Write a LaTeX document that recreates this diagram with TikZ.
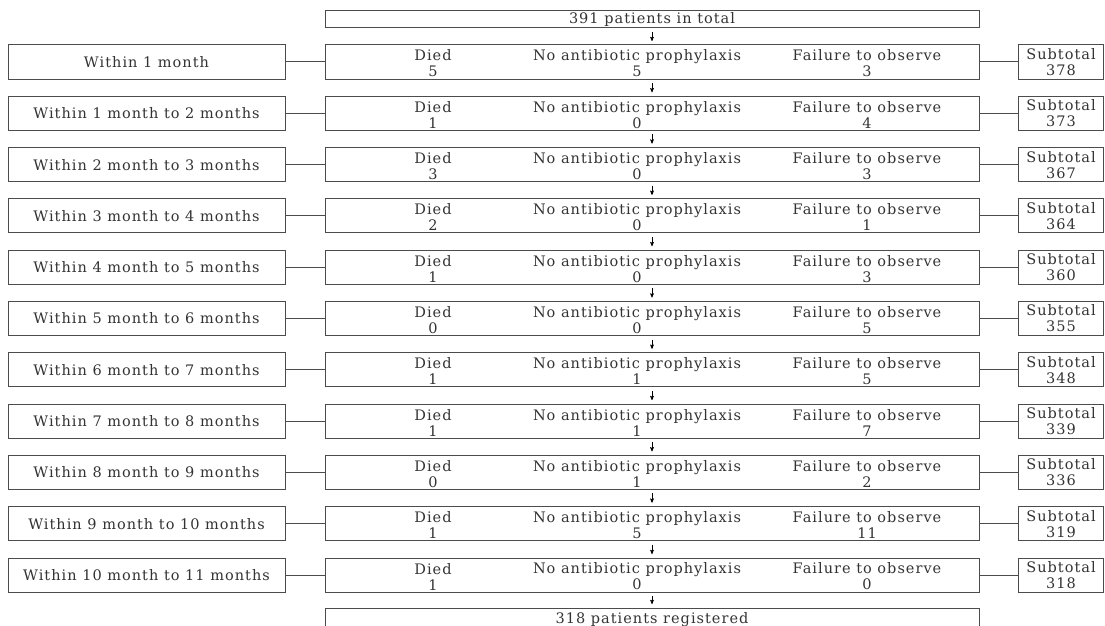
\documentclass[tikz,border=0pt]{standalone}
\usepackage{fontspec}
\setmainfont[LetterSpace=7]{DejaVu Serif}
\usepackage{tikz}
\usetikzlibrary{arrows}

\begin{document}
\begin{tikzpicture}[
	x=1pt, y=-1pt,
	>=stealth',
	line width=1pt,
	every node/.style={font=\fontsize{14.5}{16}\selectfont, text=black!80},
	box/.style={draw=black!70, inner sep=0, minimum height=34pt},
	period/.style={box, minimum width=277pt},
	counts/.style={box, minimum width=654pt},
	subtotal/.style={box, minimum width=85pt, align=center},
	cell/.style={inner sep=0, align=center},
	head/.style={draw=black!70, inner sep=0, minimum width=654pt, minimum height=17pt}
	]
	\useasboundingbox (0, 0) rectangle (1105, 626);
	\node [head, alias=mid0] (total) at (652, 19.5) {391 patients in total};
	\foreach \i/\per/\d/\a/\f/\s in {
		1/{Within 1 month}/5/5/3/378,
		2/{Within 1 month to 2 months}/1/0/4/373,
		3/{Within 2 month to 3 months}/3/0/3/367,
		4/{Within 3 month to 4 months}/2/0/1/364,
		5/{Within 4 month to 5 months}/1/0/3/360,
		6/{Within 5 month to 6 months}/0/0/5/355,
		7/{Within 6 month to 7 months}/1/1/5/348,
		8/{Within 7 month to 8 months}/1/1/7/339,
		9/{Within 8 month to 9 months}/0/1/2/336,
		10/{Within 9 month to 10 months}/1/5/11/319,
		11/{Within 10 month to 11 months}/1/0/0/318}
	{
		\pgfmathsetmacro\yy{62 + 51.3*(\i-1)}
		\pgfmathtruncatemacro\j{\i-1}
		\node [period] (per\i) at (146.5, \yy) {\per};
		\node [counts] (mid\i) at (652, \yy) {};
		\node [cell] (died\i) at (433, \yy+1.5) {Died\\\d};
		\node [cell] (anti\i) at (637, \yy+1.5) {No antibiotic prophylaxis\\\a};
		\node [cell] (fail\i) at (867, \yy+1.5) {Failure to observe\\\f};
		\node [subtotal] (sub\i) at (1061, \yy) {Subtotal\\\s};
		\draw [draw=black!70] (per\i) -- (mid\i);
		\draw [draw=black!70] (mid\i) -- (sub\i);
		\draw [->, line width=0.6pt, shorten <=3.5pt, shorten >=3.5pt] (mid\j) -- (mid\i);
	}
	\node [head, minimum height=24pt] (registered) at (652, 620) {318 patients registered};
	\draw [->, line width=0.6pt, shorten <=3.5pt, shorten >=3.5pt] (mid11) -- (registered);
\end{tikzpicture}
\end{document}
